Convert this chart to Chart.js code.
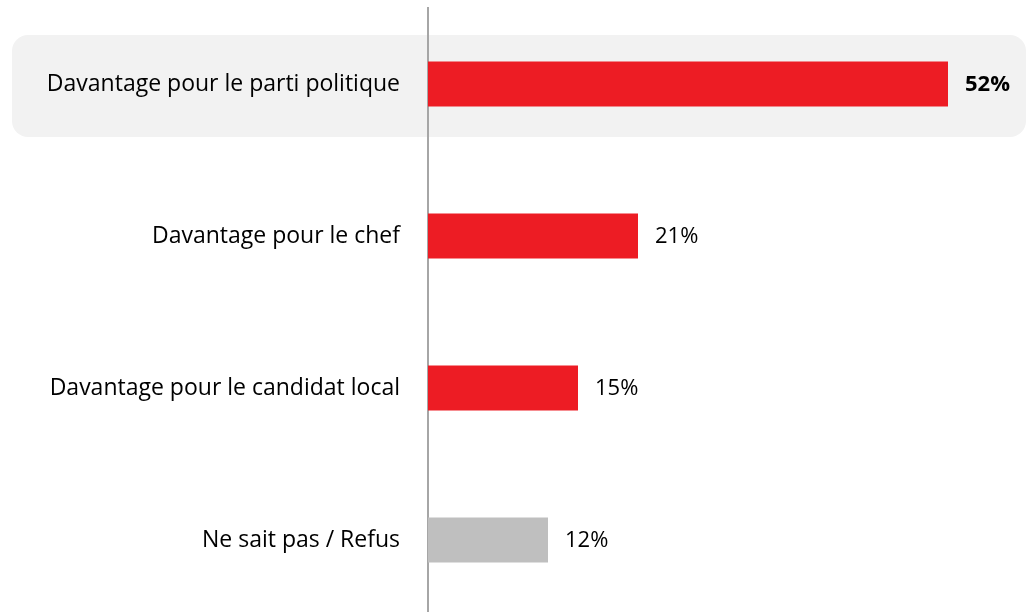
<!DOCTYPE html>
<html>
<head>
<meta charset="utf-8">
<script src="https://cdn.jsdelivr.net/npm/chart.js@4"></script>
<style>
html,body{margin:0;padding:0;background:#fff;overflow:hidden;width:1028px;height:612px;}
#wrap{width:1028px;height:616px;position:relative;}
</style>
</head>
<body>
<div id="wrap"><canvas id="c" width="1028" height="616"></canvas></div>
<script>
const categories = ["Davantage pour le parti politique", "Davantage pour le chef", "Davantage pour le candidat local", "Ne sait pas / Refus"];
const values = [52, 21, 15, 12];
const barColors = ["#ED1C24", "#ED1C24", "#ED1C24", "#BFBFBF"];
const highlightIndex = 0;
const FONT = "'Open Sans', 'Liberation Sans', sans-serif";

const highlightPlugin = {
  id: 'highlight',
  beforeDraw(chart) {
    const ctx = chart.ctx;
    const y = chart.scales.y.getPixelForValue(highlightIndex);
    const x0 = 12, x1 = chart.width - 2, top = y - 49, bot = y + 53, r = 16;
    ctx.save();
    ctx.fillStyle = '#F2F2F2';
    ctx.beginPath();
    ctx.roundRect(x0, top, x1 - x0, bot - top, r);
    ctx.fill();
    ctx.restore();
  }
};

const valueLabels = {
  id: 'valueLabels',
  afterDatasetsDraw(chart) {
    const ctx = chart.ctx;
    const meta = chart.getDatasetMeta(0);
    ctx.save();
    ctx.textBaseline = 'middle';
    ctx.textAlign = 'left';
    ctx.fillStyle = '#000';
    meta.data.forEach((bar, i) => {
      ctx.font = (i === highlightIndex ? 'bold ' : '') + '22px ' + FONT;
      ctx.fillText(values[i] + '%', bar.x + 17, bar.y + 1);
    });
    ctx.restore();
  }
};

new Chart(document.getElementById('c'), {
  type: 'bar',
  data: {
    labels: categories,
    datasets: [{
      data: values,
      backgroundColor: barColors,
      borderWidth: 0,
      categoryPercentage: 1,
      barPercentage: 0.296
    }]
  },
  options: {
    indexAxis: 'y',
    responsive: false,
    animation: false,
    layout: { padding: { top: 8, right: 0, bottom: 0, left: 0 } },
    plugins: { legend: { display: false }, tooltip: { enabled: false } },
    scales: {
      x: {
        min: 0, max: 60,
        display: false
      },
      y: {
        grid: { display: false, drawTicks: false },
        border: { display: true, color: '#A6A6A6', width: 2 },
        ticks: {
          color: '#000',
          padding: 28,
          font: { family: FONT, size: 23 }
        },
        afterFit(scale) {
          scale.width = 428;
          scale.paddingTop = 0;
          scale.paddingBottom = 0;
        }
      }
    }
  },
  plugins: [highlightPlugin, valueLabels]
});
</script>
</body>
</html>
